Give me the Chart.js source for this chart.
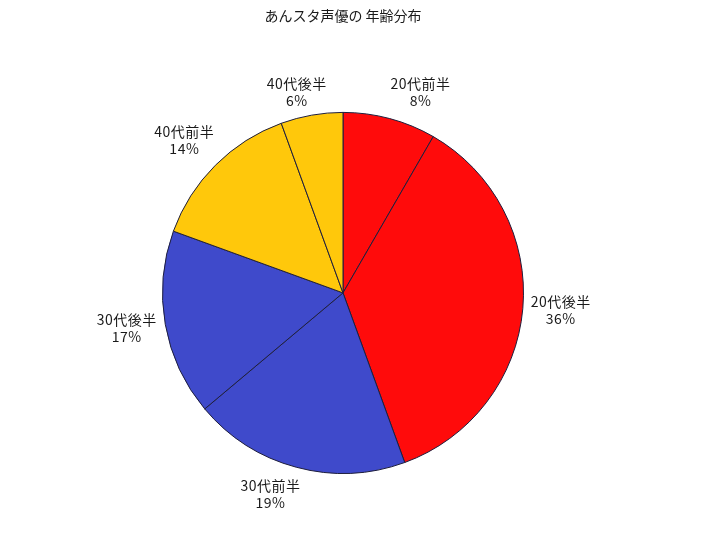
<!DOCTYPE html>
<html>
<head>
<meta charset="utf-8">
<script src="https://cdn.jsdelivr.net/npm/chart.js@4/dist/chart.umd.min.js"></script>
<style>
    html, body { margin: 0; padding: 0; background: #fff; }
</style>
</head>
<body>
<canvas id="chartCanvas" width="711" height="537"></canvas>
<script>
// data (counts, 36 in total)
const categories = ['20代前半', '20代後半', '30代前半', '30代後半', '40代前半', '40代後半'];
const counts = [3, 13, 7, 6, 5, 2];
const sliceColors = ['#ff0b0b', '#ff0b0b', '#3f4acb', '#3f4acb', '#ffc80b', '#ffc80b'];
const titleText = 'あんスタ声優の 年齢分布';

const fontFamily = '"Noto Sans CJK JP", "Noto Sans", sans-serif';

// small hand nudges so the labels sit where the original put them
const labelNudge = [[22, 6], [4, -1], [-17, -6], [-5, -2], [-7, -1], [-9, 11]];

// draws "category / percent" outside each slice
const outsideLabels = {
    id: 'outsideLabels',
    afterDatasetsDraw(chart) {
        const ctx = chart.ctx;
        const meta = chart.getDatasetMeta(0);
        const data = chart.data.datasets[0].data;
        const total = data.reduce((sum, v) => sum + v, 0);

        ctx.save();
        ctx.font = '14px ' + fontFamily;
        ctx.letterSpacing = '0.5px';
        ctx.fillStyle = '#1a1a1a';
        ctx.textAlign = 'center';
        ctx.textBaseline = 'middle';
        meta.data.forEach((arc, i) => {
            const p = arc.getProps(['x', 'y', 'startAngle', 'endAngle', 'outerRadius'], true);
            const mid = (p.startAngle + p.endAngle) / 2;
            const r = p.outerRadius + 34;
            const x = p.x + Math.cos(mid) * r + labelNudge[i][0];
            const y = p.y + Math.sin(mid) * r + labelNudge[i][1];
            const pct = Math.round(data[i] * 100 / total) + '%';
            ctx.fillText(chart.data.labels[i], x, y - 8.5);
            ctx.fillText(pct, x, y + 8.5);
        });
        ctx.restore();
    }
};

const ctx = document.getElementById('chartCanvas').getContext('2d');
new Chart(ctx, {
    type: 'pie',
    data: {
        labels: categories,
        datasets: [{
            data: counts,
            backgroundColor: sliceColors,
            borderColor: '#1e1e3c',
            borderWidth: 1
        }]
    },
    options: {
        responsive: false,
        animation: false,
        layout: {
            padding: {left: 162, right: 187, top: 0, bottom: 63}
        },
        plugins: {
            legend: {display: false},
            tooltip: {enabled: false},
            title: {
                display: true,
                text: titleText,
                color: '#1a1a1a',
                font: {family: fontFamily, size: 14, weight: 'normal', lineHeight: 1.2},
                padding: {top: 7, bottom: 88}
            }
        }
    },
    plugins: [outsideLabels]
});
</script>
</body>
</html>
